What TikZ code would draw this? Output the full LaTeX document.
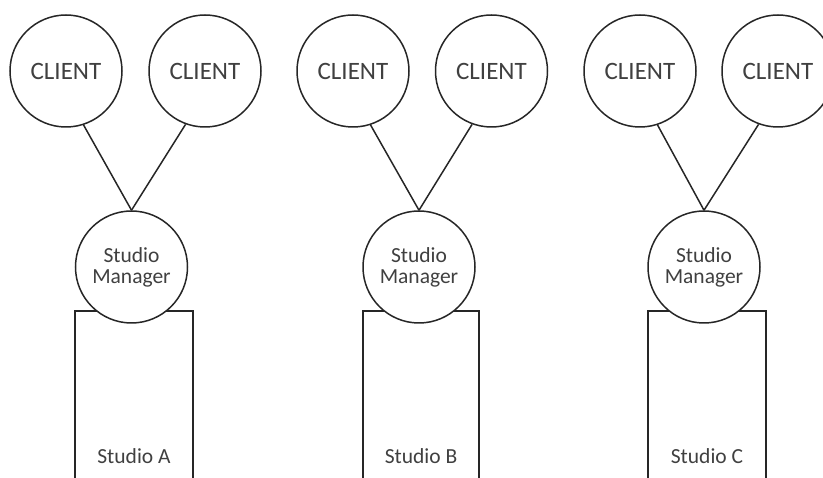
\documentclass[tikz,border=0pt]{standalone}
\usepackage{fontspec}
\setmainfont{Carlito}
\begin{document}
\begin{tikzpicture}[x=1pt,y=-1pt,
  outline/.style={line width=1.5pt, draw=black!85},
  client/.style={outline, circle, fill=white, minimum size=112pt, inner sep=0pt,
    text=black!75, font=\fontsize{25}{25}\selectfont},
  manager/.style={outline, circle, fill=white, minimum size=112pt, inner sep=0pt,
    align=center, text=black!75, font=\fontsize{21.5}{21}\selectfont},
  studiolabel/.style={anchor=base, text=black!75, font=\fontsize{21.5}{21}\selectfont},
  link/.style={outline}]
\useasboundingbox (0,0) rectangle (823,478);
\clip (0,0) rectangle (823,478);

% studio rooms (open below the frame)
\draw[outline] (75,490) -- (75,311) -- (193,311) -- (193,490);
\draw[outline] (363,490) -- (363,311) -- (479,311) -- (479,490);
\draw[outline] (648,490) -- (648,311) -- (766,311) -- (766,490);

\node[studiolabel] (sa) at (134,464) {Studio A};
\node[studiolabel] (sb) at (421,464) {Studio B};
\node[studiolabel] (sc) at (707,464) {Studio C};

% studio managers
\node[manager] (ma) at (131.5,267) {Studio\\Manager};
\node[manager] (mb) at (419,267) {Studio\\Manager};
\node[manager] (mc) at (704,267) {Studio\\Manager};

% clients
\node[client] (a1) at (66,71) {CLIENT};
\node[client] (a2) at (205,71) {CLIENT};
\node[client] (b1) at (353,71) {CLIENT};
\node[client] (b2) at (491.5,71) {CLIENT};
\node[client] (c1) at (640,71) {CLIENT};
\node[client] (c2) at (778,71) {CLIENT};

% client connections, leaving each client near its lower edge
\draw[link] (a1.-72) -- (ma.north);
\draw[link] (a2.-110) -- (ma.north);
\draw[link] (b1.-72) -- (mb.north);
\draw[link] (b2.-110) -- (mb.north);
\draw[link] (c1.-72) -- (mc.north);
\draw[link] (c2.-110) -- (mc.north);
\end{tikzpicture}
\end{document}
